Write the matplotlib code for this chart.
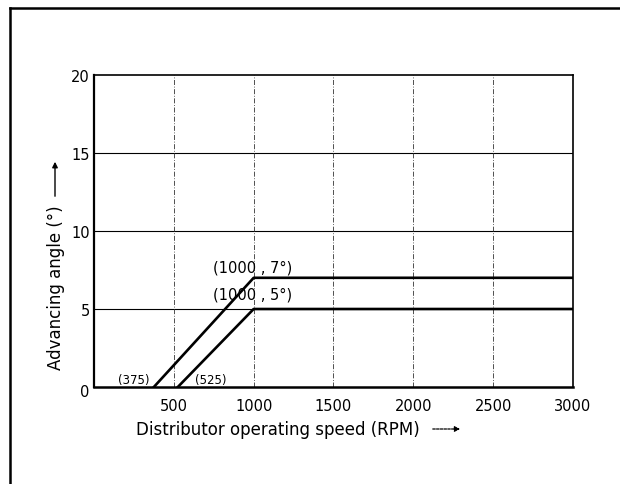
import matplotlib
matplotlib.use('Agg')
import matplotlib.pyplot as plt
from matplotlib.lines import Line2D

plt.rcParams['font.family'] = ['DejaVu Sans']

# advance curves: speed (rpm) vs advancing angle (deg)
speed_hi = [375, 1000, 3000]
angle_hi = [0, 7, 7]
speed_lo = [525, 1000, 3000]
angle_lo = [0, 5, 5]

x_ticks = [500, 1000, 1500, 2000, 2500, 3000]
y_ticks = [5, 10, 15, 20]

fig = plt.figure(figsize=(6.2, 4.85), dpi=100)
ax = fig.add_axes([0.1516, 0.2, 0.7726, 0.6433])

for y in y_ticks[:-1]:
    ax.axhline(y, color='black', lw=0.8, zorder=1)
for x in x_ticks[:-1]:
    ax.axvline(x, color='#333333', lw=0.6, dashes=(6, 2, 1, 2), zorder=1)

ax.plot(speed_hi, angle_hi, color='black', lw=1.9, zorder=3)
ax.plot(speed_lo, angle_lo, color='black', lw=1.9, zorder=3)

ax.set_xlim(0, 3000)
ax.set_ylim(0, 20)
ax.set_xticks(x_ticks)
ax.set_yticks(y_ticks)
ax.tick_params(length=0, labelsize=10.5)
ax.tick_params(axis='x', pad=8)
ax.tick_params(axis='y', pad=3)
for s in ax.spines.values():
    s.set_linewidth(1.2)
ax.spines['bottom'].set_linewidth(1.8)
ax.spines['left'].set_linewidth(1.6)
ax.annotate('0', (0, 0), xytext=(-3, -3), textcoords='offset points',
            ha='right', va='center', fontsize=10.5)

ax.text(speed_hi[0] - 30, 0.45, '(375)', fontsize=8.5, ha='right', va='center')
ax.text(speed_lo[0] + 110, 0.45, '(525)', fontsize=8.5, ha='left', va='center')
ax.text(speed_hi[1] - 255, angle_hi[1] + 0.7, '(1000 , 7°)', fontsize=10.5, ha='left', va='center')
ax.text(speed_lo[1] - 255, angle_lo[1] + 0.95, '(1000 , 5°)', fontsize=10.5, ha='left', va='center')

# axis titles with their direction arrows
fig.text(277.5 / 620, 1 - 430 / 485, 'Distributor operating speed (RPM)', fontsize=12,
         ha='center', va='center')
fig.add_artist(plt.Annotation('', xy=(463 / 620, 1 - 430 / 485), xytext=(430 / 620, 1 - 430 / 485),
                              xycoords='figure fraction', textcoords='figure fraction',
                              arrowprops=dict(arrowstyle='-|>', color='black', lw=0.9,
                                              ls=(0, (2, 1)), mutation_scale=8)))
fig.text(56 / 620, 1 - 288 / 485, 'Advancing angle (°)', fontsize=12, rotation=90,
         ha='center', va='center')
fig.add_artist(plt.Annotation('', xy=(55 / 620, 1 - 160 / 485), xytext=(55 / 620, 1 - 200 / 485),
                              xycoords='figure fraction', textcoords='figure fraction',
                              arrowprops=dict(arrowstyle='-|>', color='black', lw=1.0,
                                              mutation_scale=8)))

# page frame
fig.add_artist(Line2D([10 / 620, 1], [1 - 9 / 485, 1 - 9 / 485], transform=fig.transFigure, color='black', lw=1.8))
fig.add_artist(Line2D([10 / 620, 10 / 620], [0, 1 - 9 / 485], transform=fig.transFigure, color='black', lw=1.8))

fig.savefig('out.png', dpi=100)
